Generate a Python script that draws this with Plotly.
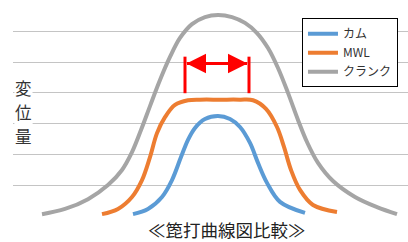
import plotly.graph_objects as go

# ---- data ----
series_names = ["カム", "MWL", "クランク"]

cam_x = [91, 106, 120, 130, 139, 146, 153, 163, 176, 188, 198, 208, 216, 225, 238, 263]
cam_y = [0.05, 0.22, 0.61, 1.16, 1.91, 2.47, 2.86, 3.15, 3.25, 3.15, 2.89, 2.37, 1.72, 1.07, 0.45, 0.09]

mwl_x = [60, 76, 90, 100, 108, 115, 123, 133, 146, 158, 178, 198, 211, 224, 235, 242, 249, 258, 271, 295]
mwl_y = [0.05, 0.22, 0.61, 1.16, 1.91, 2.69, 3.21, 3.61, 3.76, 3.78, 3.78, 3.78, 3.76, 3.48, 2.89, 2.24, 1.49, 0.84, 0.35, 0.12]

crank_x = [0, 23, 46, 66, 80, 90, 99, 108, 118, 128, 138, 150, 163, 176, 190, 203, 215, 226, 236, 246,
           256, 265, 276, 291, 313, 335, 355]
crank_y = [0.05, 0.22, 0.54, 1.00, 1.49, 2.07, 2.79, 3.57, 4.42, 5.17, 5.79, 6.24, 6.47, 6.54, 6.47, 6.28,
           5.95, 5.46, 4.81, 4.00, 3.12, 2.40, 1.72, 1.13, 0.61, 0.28, 0.05]

grid_vals = [1, 2, 3, 4, 5, 6]

y_title_chars = ["変", "位", "量"]
chart_title = "≪箆打曲線図比較≫"

# dwell width marker (MWL flat top)
dwell_x = [143, 207]
dwell_bar_y = [3.99, 5.18]
dwell_arrow_y = 4.96

colors = ["#5B9BD5", "#ED7D31", "#A5A5A5"]

fig = go.Figure()
for name, xs, ys, c in zip(series_names, [cam_x, mwl_x, crank_x], [cam_y, mwl_y, crank_y], colors):
    fig.add_trace(go.Scatter(x=xs, y=ys, mode="lines", name=name,
                             line=dict(color=c, width=4, shape="spline", smoothing=1)))

# red vertical bars
for xv in dwell_x:
    fig.add_shape(type="line", xref="x", yref="y", x0=xv, x1=xv, y0=dwell_bar_y[0], y1=dwell_bar_y[1],
                  line=dict(color="#FF0000", width=3))
# arrow shaft
fig.add_shape(type="line", xref="x", yref="y", x0=dwell_x[0] + 2, x1=dwell_x[1] - 2,
              y0=dwell_arrow_y, y1=dwell_arrow_y, line=dict(color="#FF0000", width=3))
# arrow heads
mid = (dwell_x[0] + dwell_x[1]) / 2
for tip in [dwell_x[0] + 1.5, dwell_x[1] - 1.5]:
    fig.add_annotation(x=tip, y=dwell_arrow_y, ax=mid, ay=dwell_arrow_y, xref="x", yref="y",
                       axref="x", ayref="y", text="", showarrow=True, arrowhead=2,
                       arrowsize=1.3, arrowwidth=3, arrowcolor="#FF0000", standoff=0)

# y-axis title (vertical, one character per line)
plot_h = 222.0
for i, ch in enumerate(y_title_chars):
    cy = 87.5 + 24.0 * i
    fig.add_annotation(text=ch, xref="paper", yref="paper", x=0.0278, y=1 - cy / plot_h,
                       showarrow=False, font=dict(size=16.5, color="#333333", family="Noto Sans CJK JP"),
                       bgcolor="white", borderpad=0, xanchor="center", yanchor="middle")
# bottom title
fig.add_annotation(text=chart_title, xref="paper", yref="paper", x=(227 - 13) / 395, y=-0.033,
                   showarrow=False, font=dict(size=17.5, color="#222222", family="Noto Sans CJK JP"),
                   xanchor="center", yanchor="middle")

fig.update_layout(
    width=408, height=242,
    margin=dict(l=13, r=0, t=0, b=20),
    paper_bgcolor="white", plot_bgcolor="white",
    font=dict(family="Noto Sans CJK JP", color="#333333"),
    showlegend=True,
    legend=dict(x=0.7316, y=0.918, xanchor="left", yanchor="top",
                bgcolor="white", bordercolor="#000000", borderwidth=1,
                font=dict(size=12, color="#333333"), itemwidth=30, tracegroupgap=0),
    xaxis=dict(range=[-29, 366], showgrid=False, zeroline=False, showticklabels=False,
               showline=False, ticks=""),
    yaxis=dict(range=[-0.205, 7.026], tickvals=grid_vals, showgrid=True, gridcolor="#C4C4C4",
               gridwidth=1, zeroline=False, showticklabels=False, showline=False, ticks=""),
)

fig.write_html("out.html", config={"displayModeBar": False})
# remove the default 8px page margin so the figure sits at the window's corner
with open("out.html", encoding="utf-8") as f:
    html = f.read()
html = html.replace("<head>", "<head><style>html,body{margin:0;padding:0;overflow:hidden;}</style>", 1)
with open("out.html", "w", encoding="utf-8") as f:
    f.write(html)
